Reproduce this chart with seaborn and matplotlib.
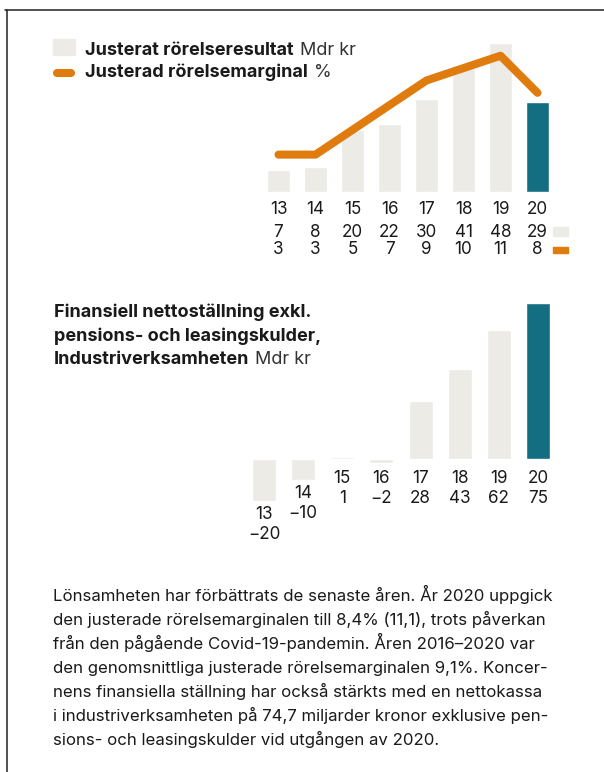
import numpy as np
import matplotlib
matplotlib.use("Agg")
import matplotlib.pyplot as plt
import seaborn as sns
from matplotlib.transforms import IdentityTransform
from matplotlib.patches import Rectangle
from matplotlib.lines import Line2D

# --- data ---
years = ["13", "14", "15", "16", "17", "18", "19", "20"]
op_result = [7, 8, 20, 22, 30, 41, 48, 29]      # Mdr kr
op_margin = [3, 3, 5, 7, 9, 10, 11, 8]          # %
net_position = [-20, -10, 1, -2, 28, 43, 62, 75]  # Mdr kr

legend_bar = "Justerat rörelseresultat"
legend_line = "Justerad rörelsemarginal"
title_lines = ["Finansiell nettoställning exkl.",
               "pensions- och leasingskulder,",
               "Industriverksamheten"]
unit = "Mdr kr"
body_lines = [
    "Lönsamheten har förbättrats de senaste åren. År 2020 uppgick",
    "den justerade rörelsemarginalen till 8,4% (11,1), trots påverkan",
    "från den pågående Covid-19-pandemin. Åren 2016–2020 var",
    "den genomsnittliga justerade rörelsemarginalen 9,1%. Koncer-",
    "nens finansiella ställning har också stärkts med en nettokassa",
    "i industriverksamheten på 74,7 miljarder kronor exklusive pen-",
    "sions- och leasingskulder vid utgången av 2020.",
]

LIGHT = "#ECEBE6"
TEAL = "#146E82"
ORANGE = "#E07B0E"
TXT = "#1A1A1A"
GREY = "#333333"

sns.set_style("white")
plt.rcParams["font.family"] = ["Inter", "DejaVu Sans"]

W, H = 604, 772
fig = plt.figure(figsize=(W / 100, H / 100), dpi=100)
PIX = IdentityTransform()


def box(left, top, width, height):
    return [left / W, 1 - (top + height) / H, width / W, height / H]


def put(x, y, s, weight="normal", size=12, color=TXT, ha="left"):
    return fig.text(x, H - y, s, transform=PIX, ha=ha, va="baseline",
                    fontsize=size, fontweight=weight, color=color)


def runs(x, y, bold, regular, size=13):
    t = put(x, y, bold, weight="bold", size=size)
    bb = t.get_window_extent(renderer=fig.canvas.get_renderer())
    put(bb.x1 + 6, y, regular, size=size, color=GREY)


bar_colors = [LIGHT] * (len(years) - 1) + [TEAL]
NUM = 12.3

# --- top chart: result bars + margin line (margin drawn at 4x scale) ---
ax1 = fig.add_axes(box(260, 37.2, 296, 154.5))
sns.barplot(x=years, y=op_result, hue=years, palette=bar_colors, legend=False,
            width=0.64, saturation=1, ax=ax1)
sns.lineplot(x=np.arange(len(years)), y=np.array(op_margin) * 4, ax=ax1,
             color=ORANGE, linewidth=5.8, solid_capstyle="round",
             solid_joinstyle="round", zorder=5)
ax1.set_xlim(-0.5, 7.5)
ax1.set_ylim(0, 50)
ax1.axis("off")

for i, yr in enumerate(years):
    for txt, off in [(yr, 22.8), (str(op_result[i]), 45.3), (str(op_margin[i]), 62.8)]:
        ax1.annotate(txt, xy=(i, 0), xytext=(0, -off), textcoords="offset pixels",
                     ha="center", va="baseline", fontsize=NUM, color=TXT)

# small keys next to the value rows
fig.add_artist(Rectangle((553, H - 236), 15, 9, transform=PIX, color=LIGHT))
fig.add_artist(Rectangle((553, H - 252.5), 15, 5.5, transform=PIX, color=ORANGE))

# legend
fig.add_artist(Rectangle((52.7, H - 55), 21.8, 15.7, transform=PIX, color=LIGHT))
fig.add_artist(Line2D([56.8, 70.6], [H - 73, H - 73], transform=PIX, color=ORANGE,
                      linewidth=5.8, solid_capstyle="round"))
runs(85, 55, legend_bar, unit)
runs(85, 77, legend_line, "%")

# --- bottom chart: net financial position ---
ax2 = fig.add_axes(box(244.4, 292.3, 313.1, 218.8))
sns.barplot(x=years, y=net_position, hue=years, palette=bar_colors, legend=False,
            width=0.613, saturation=1, ax=ax2)
ax2.set_xlim(-0.5, 7.5)
ax2.set_ylim(-25, 80)
ax2.axis("off")

px_per_unit = 218.8 / 105
for i, yr in enumerate(years):
    below = max(0, -net_position[i]) * px_per_unit
    off = max(24.3, below + 18)
    val = str(net_position[i]).replace("-", "\u2212")
    ax2.annotate(yr, xy=(i, 0), xytext=(0, -off), textcoords="offset pixels",
                 ha="center", va="baseline", fontsize=NUM, color=TXT)
    ax2.annotate(val, xy=(i, 0), xytext=(0, -off - 20), textcoords="offset pixels",
                 ha="center", va="baseline", fontsize=NUM, color=TXT)

put(54, 317, title_lines[0], weight="bold", size=13)
put(54, 341, title_lines[1], weight="bold", size=13)
runs(54, 364.5, title_lines[2], unit)

# body text
for k, line in enumerate(body_lines):
    put(53, 601 + 24 * k, line, size=12.1)

# frame
fig.add_artist(Line2D([5, W], [H - 9.5, H - 9.5], transform=PIX, color="#222222", linewidth=1.1))
fig.add_artist(Line2D([6.5, 6.5], [0, H - 9.5], transform=PIX, color="#222222", linewidth=1.1))

fig.savefig("out.png", dpi=100)
